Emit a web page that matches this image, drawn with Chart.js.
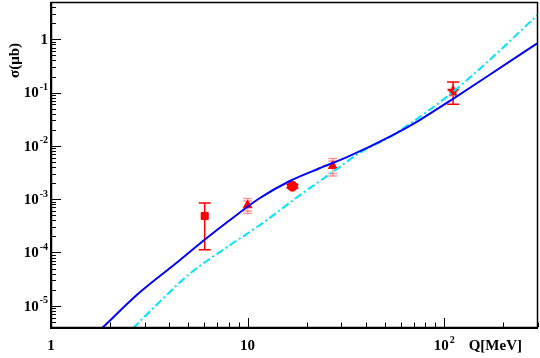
<!DOCTYPE html>
<html><head><meta charset="utf-8">
<script src="https://cdn.jsdelivr.net/npm/chart.js@4.4.1/dist/chart.umd.min.js"></script>
<style>html,body{margin:0;padding:0;background:#fff}#wrap{width:540px;height:358px;position:relative}canvas{display:block}</style>
</head><body><div id="wrap"><canvas id="c" width="540" height="358" style="width:540px;height:358px"></canvas></div>
<script>
// ---- data ----
const blueQ = [1.77, 2.83, 4.52, 5.91, 8.10, 11.5, 16.3, 23.2, 31.8, 54.5, 74.7, 110, 163, 297];
const blueSigma = [3.47e-6, 1.79e-5, 7.14e-5, 1.62e-4, 4.02e-4, 1.04e-3, 2.17e-3, 3.80e-3, 6.1e-3, 0.0158, 0.0302, 0.0748, 0.194, 0.84];
const cyanQ = [2.61, 3.70, 5.08, 8.10, 11.5, 18.4, 27.0, 37.0, 54.5, 81.0, 110, 163, 297];
const cyanSigma = [3.78e-6, 1.35e-5, 4.0e-5, 1.36e-4, 3.24e-4, 1.18e-3, 3.2e-3, 7.3e-3, 0.0158, 0.0427, 0.101, 0.355, 2.82];
const expQ = [6.05, 10, 16.9, 27.1, 111];
const expSigma = [4.84e-4, 7.69e-4, 1.75e-3, 4.2e-3, 0.106];
const expErrLow = [1.13e-4, 5.37e-4, 1.62e-3, 2.72e-3, 0.0604];
const expErrHigh = [8.5e-4, 1.03e-3, 1.88e-3, 5.78e-3, 0.158];
const xTickValues = [1, 10, 100];
const xTickLabels = ['1', '10', '10^2'];
const yTickValues = [1e-5, 1e-4, 1e-3, 1e-2, 1e-1, 1];
const yTickLabels = ['10^-5', '10^-4', '10^-3', '10^-2', '10^-1', '1'];
const xTitle = 'Q[MeV]';
const yTitle = 'σ(μb)';
const xRange = [1, 300];
const yRange = [4e-6, 5];

// ---- styles ----
const RED = '#ff0000', PINK = 'rgba(255,120,120,0.75)';
const errColors = [RED, PINK, RED, PINK, RED];
const FONT = 'bold 15px "Liberation Serif", "DejaVu Serif", serif';
const SUPFONT = 'bold 10px "Liberation Serif", "DejaVu Serif", serif';

function makeStar(size, color) {
  const c = document.createElement('canvas');
  c.width = size; c.height = size;
  const g = c.getContext('2d');
  const cx = size / 2, cy = size / 2, R = size / 2 - 0.5, r = R * 0.45;
  g.beginPath();
  for (let i = 0; i < 10; i++) {
    const a = -Math.PI / 2 + i * Math.PI / 5;
    const rr = i % 2 ? r : R;
    g.lineTo(cx + rr * Math.cos(a), cy + rr * Math.sin(a));
  }
  g.closePath();
  g.fillStyle = color; g.fill();
  g.lineWidth = 1; g.strokeStyle = '#cc0000'; g.stroke();
  return c;
}
const star = makeStar(13, RED);

function drawPow(ctx, label, x, y, align) {
  const parts = label.split('^');
  ctx.font = FONT;
  const wb = ctx.measureText(parts[0]).width;
  let we = 0;
  if (parts[1]) { ctx.font = SUPFONT; we = ctx.measureText(parts[1]).width + 1; }
  const total = wb + we;
  let x0 = align === 'right' ? x - total : (align === 'center' ? x - total / 2 : x);
  ctx.textAlign = 'left'; ctx.textBaseline = 'middle'; ctx.fillStyle = '#000';
  ctx.font = FONT; ctx.fillText(parts[0], x0, y);
  if (parts[1]) { ctx.font = SUPFONT; ctx.fillText(parts[1], x0 + wb + 1, y - 6); }
}

const rootAxes = {
  id: 'rootAxes',
  beforeDatasetsDraw(chart) {
    const ctx = chart.ctx, xs = chart.scales.x, ys = chart.scales.y;
    ctx.save();
    for (let i = 0; i < expQ.length; i++) {
      const px = xs.getPixelForValue(expQ[i]);
      const pyl = ys.getPixelForValue(expErrLow[i]);
      const pyh = ys.getPixelForValue(expErrHigh[i]);
      ctx.strokeStyle = errColors[i]; ctx.lineWidth = 1.5;
      ctx.beginPath(); ctx.moveTo(px, pyl); ctx.lineTo(px, pyh); ctx.stroke();
      const cw = errColors[i] === RED ? 6 : 4.5;
      ctx.beginPath();
      ctx.moveTo(px - cw, pyl); ctx.lineTo(px + cw, pyl);
      ctx.moveTo(px - cw, pyh); ctx.lineTo(px + cw, pyh);
      if (errColors[i] !== RED) {
        ctx.moveTo(px - cw, pyl - 2.5); ctx.lineTo(px + cw, pyl - 2.5);
        ctx.moveTo(px - cw, pyh + 2.5); ctx.lineTo(px + cw, pyh + 2.5);
      }
      ctx.stroke();
    }
    ctx.restore();
  },
  afterDraw(chart) {
    const ctx = chart.ctx, a = chart.chartArea, xs = chart.scales.x, ys = chart.scales.y;
    ctx.save();
    ctx.strokeStyle = '#000';
    ctx.lineWidth = 1;
    ctx.beginPath();
    for (let d = 1; d <= 100; d *= 10) {
      for (let m = 1; m <= 9; m++) {
        const v = d * m;
        if (v < xRange[0] || v > xRange[1]) continue;
        const px = Math.round(xs.getPixelForValue(v)) + 0.5;
        const L = m === 1 ? 9 : 4.5;
        ctx.moveTo(px, a.bottom); ctx.lineTo(px, a.bottom - L);
      }
    }
    for (let d = 1e-6; d <= 1.01; d *= 10) {
      for (let m = 1; m <= 9; m++) {
        const v = d * m;
        if (v < yRange[0] || v > yRange[1]) continue;
        const py = Math.round(ys.getPixelForValue(v)) + 0.5;
        const L = m === 1 ? 10 : 5;
        ctx.moveTo(a.left, py); ctx.lineTo(a.left + L, py);
      }
    }
    ctx.stroke();
    ctx.lineWidth = 1.5;
    ctx.strokeRect(a.left + 0.5, a.top + 0.5, a.right - a.left - 1, a.bottom - a.top);
    ctx.lineWidth = 2;
    ctx.beginPath();
    ctx.moveTo(a.left, a.top); ctx.lineTo(a.left, a.bottom + 1); ctx.lineTo(a.right, a.bottom + 1);
    ctx.stroke();
    xTickValues.forEach((v, i) => drawPow(ctx, xTickLabels[i], xs.getPixelForValue(v), 346, 'center'));
    yTickValues.forEach((v, i) => drawPow(ctx, yTickLabels[i], 48, ys.getPixelForValue(v) + 1, 'right'));
    ctx.font = FONT; ctx.fillStyle = '#000'; ctx.textBaseline = 'middle';
    ctx.textAlign = 'right';
    ctx.fillText(xTitle, 522, 346);
    ctx.translate(15, 43); ctx.rotate(-Math.PI / 2);
    ctx.textAlign = 'right';
    ctx.fillText(yTitle, 0, 0);
    ctx.restore();
  }
};

new Chart(document.getElementById('c'), {
  type: 'scatter',
  data: {
    datasets: [
      {
        label: 'blue', showLine: true,
        data: blueQ.map((q, i) => ({ x: q, y: blueSigma[i] })),
        borderColor: '#0000ff', borderWidth: 2, pointRadius: 0, cubicInterpolationMode: 'monotone', fill: false
      },
      {
        label: 'cyan', showLine: true,
        data: cyanQ.map((q, i) => ({ x: q, y: cyanSigma[i] })),
        borderColor: '#00e5ff', borderWidth: 2, borderDash: [8, 3, 2, 3], pointRadius: 0, cubicInterpolationMode: 'monotone', fill: false
      },
      {
        label: 'data', showLine: false,
        data: expQ.map((q, i) => ({ x: q, y: expSigma[i] })),
        pointStyle: ['rect', 'triangle', 'circle', 'triangle', star],
        pointRadius: [5, 5, 5, 5, 6],
        backgroundColor: RED, borderColor: RED, borderWidth: 1
      }
    ]
  },
  options: {
    responsive: false, maintainAspectRatio: false, animation: false, devicePixelRatio: 1,
    layout: { autoPadding: false, padding: { left: 51, right: 2, top: 2, bottom: 31 } },
    plugins: { legend: { display: false }, tooltip: { enabled: false } },
    scales: {
      x: { type: 'logarithmic', min: xRange[0], max: xRange[1], display: false },
      y: { type: 'logarithmic', min: yRange[0], max: yRange[1], display: false }
    }
  },
  plugins: [rootAxes]
});
</script>
</body></html>
